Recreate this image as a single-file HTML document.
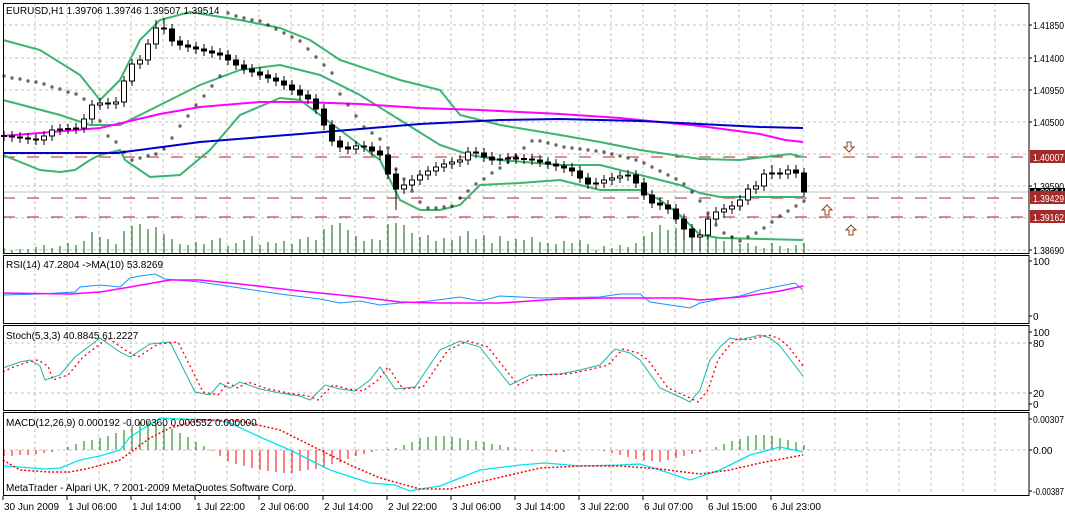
<!DOCTYPE html>
<html><head><meta charset="utf-8"><style>
html,body{margin:0;padding:0;background:#fff;}
svg{display:block;font-family:"Liberation Sans",sans-serif;font-size:10px;}
</style></head><body>
<svg xmlns="http://www.w3.org/2000/svg" width="1065" height="514" viewBox="0 0 1065 514">
<rect width="1065" height="514" fill="#fff"/>
<path d="M35 3V495M67 3V495M99 3V495M131 3V495M163 3V495M195 3V495M227 3V495M259 3V495M291 3V495M323 3V495M355 3V495M387 3V495M419 3V495M451 3V495M483 3V495M515 3V495M547 3V495M579 3V495M611 3V495M643 3V495M675 3V495M707 3V495M739 3V495M771 3V495M803 3V495M835 3V495M867 3V495M899 3V495M931 3V495M963 3V495M995 3V495" stroke="#c0c0c0" stroke-dasharray="3,3" fill="none"/>
<path d="M3 25H1029M3 58H1029M3 90H1029M3 122H1029M3 154H1029M3 186H1029M3 218H1029M3 250H1029M3 343H1029M3 393H1029M3 450H1029" stroke="#c0c0c0" stroke-dasharray="3,3" fill="none"/>
<line x1="3" y1="192" x2="1029" y2="192" stroke="#c0c0c0"/>
<path d="M3 157H1029M3 198H1029M3 217H1029" stroke="#b22222" stroke-dasharray="12,12" fill="none"/>
<path stroke="#006400" fill="none" d="M4 253v-5M12 253v-3M20 253v-4M28 253v-4M36 253v-6M44 253v-8M52 253v-5M60 253v-7M68 253v-10M76 253v-8M84 253v-12M92 253v-21M100 253v-16M108 253v-14M116 253v-9M124 253v-22M132 253v-27M140 253v-29M148 253v-24M156 253v-26M164 253v-19M172 253v-14M180 253v-9M188 253v-8M196 253v-11M204 253v-9M212 253v-13M220 253v-15M228 253v-7M236 253v-10M244 253v-13M252 253v-17M260 253v-8M268 253v-11M276 253v-10M284 253v-12M292 253v-9M300 253v-14M308 253v-16M316 253v-13M324 253v-24M332 253v-28M340 253v-30M348 253v-23M356 253v-17M364 253v-12M372 253v-14M380 253v-13M388 253v-29M396 253v-30M404 253v-28M412 253v-20M420 253v-16M428 253v-18M436 253v-12M444 253v-15M452 253v-13M460 253v-17M468 253v-22M476 253v-14M484 253v-18M492 253v-10M500 253v-17M508 253v-12M516 253v-14M524 253v-13M532 253v-16M540 253v-11M548 253v-10M556 253v-9M564 253v-12M572 253v-10M580 253v-13M588 253v-9M596 253v-3M604 253v-7M612 253v-5M620 253v-8M628 253v-6M636 253v-10M644 253v-17M652 253v-21M660 253v-28M668 253v-23M676 253v-25M684 253v-30M692 253v-27M700 253v-24M708 253v-18M716 253v-15M724 253v-12M732 253v-17M740 253v-9M748 253v-10M756 253v-7M764 253v-5M772 253v-10M780 253v-7M788 253v-5M796 253v-8M804 253v-10"/>
<g fill="none" stroke-width="2">
<polyline stroke="#3cb371" points="3,40 40,50 80,75 100,100 120,80 140,40 160,20 190,12 240,20 280,28 310,40 340,60 400,80 440,90 460,115 500,125 560,135 600,142 640,150 700,159 740,160 790,154 803,157"/>
<polyline stroke="#3cb371" points="3,100 60,115 90,125 120,125 160,105 200,85 240,70 280,65 320,75 360,95 400,120 440,145 470,155 500,160 560,165 600,165 640,175 680,185 700,193 720,197 803,197"/>
<polyline stroke="#3cb371" points="3,155 40,170 60,172 75,170 90,160 100,155 120,150 125,160 150,177 180,175 210,150 240,115 280,98 300,100 340,130 380,160 400,200 420,210 440,210 460,205 480,185 520,183 560,180 600,190 640,190 660,200 680,215 700,235 720,238 803,240"/>
<polyline stroke="#ff00ff" points="3,136 100,128 160,114 200,107 260,102 300,102 360,104 420,108 480,110 560,114 620,118 700,126 760,134 785,140 803,142"/>
<polyline stroke="#0000cd" points="3,153 117,153 200,142 300,134 360,129 420,124 500,120 560,119 640,121 700,124 760,127 803,128"/>
</g>
<g fill="none" stroke="#000" stroke-width="0.7">
<path d="M3 75h2v2h-2zM11 77h2v2h-2zM19 78h2v2h-2zM27 80h2v2h-2zM35 81h2v2h-2zM43 83h2v2h-2zM51 86h2v2h-2zM59 88h2v2h-2zM67 91h2v2h-2zM75 93h2v2h-2zM83 98h2v2h-2zM91 113h2v2h-2zM99 120h2v2h-2zM107 135h2v2h-2zM115 141h2v2h-2zM123 151h2v2h-2zM131 159h2v2h-2zM139 157h2v2h-2zM147 155h2v2h-2zM155 153h2v2h-2zM163 148h2v2h-2zM171 137h2v2h-2zM179 125h2v2h-2zM187 115h2v2h-2zM195 104h2v2h-2zM203 95h2v2h-2zM211 85h2v2h-2zM219 75h2v2h-2zM227 12h2v2h-2zM235 15h2v2h-2zM243 17h2v2h-2zM251 19h2v2h-2zM259 20h2v2h-2zM267 24h2v2h-2zM275 28h2v2h-2zM283 32h2v2h-2zM291 36h2v2h-2zM299 40h2v2h-2zM307 48h2v2h-2zM315 56h2v2h-2zM323 64h2v2h-2zM331 72h2v2h-2zM339 93h2v2h-2zM347 104h2v2h-2zM355 115h2v2h-2zM363 126h2v2h-2zM371 132h2v2h-2zM379 138h2v2h-2zM387 147h2v2h-2zM395 168h2v2h-2zM403 178h2v2h-2zM411 190h2v2h-2zM419 201h2v2h-2zM427 207h2v2h-2zM435 207h2v2h-2zM443 206h2v2h-2zM451 205h2v2h-2zM459 197h2v2h-2zM467 190h2v2h-2zM475 183h2v2h-2zM483 178h2v2h-2zM491 172h2v2h-2zM499 167h2v2h-2zM507 161h2v2h-2zM515 155h2v2h-2zM523 147h2v2h-2zM531 140h2v2h-2zM539 140h2v2h-2zM547 142h2v2h-2zM555 144h2v2h-2zM563 146h2v2h-2zM571 147h2v2h-2zM579 148h2v2h-2zM587 149h2v2h-2zM595 150h2v2h-2zM603 151h2v2h-2zM611 153h2v2h-2zM619 155h2v2h-2zM627 157h2v2h-2zM635 159h2v2h-2zM643 162h2v2h-2zM651 166h2v2h-2zM659 170h2v2h-2zM667 174h2v2h-2zM675 178h2v2h-2zM683 183h2v2h-2zM691 191h2v2h-2zM699 200h2v2h-2zM707 212h2v2h-2zM715 224h2v2h-2zM723 232h2v2h-2zM731 236h2v2h-2zM739 240h2v2h-2zM747 236h2v2h-2zM755 232h2v2h-2zM763 227h2v2h-2zM771 221h2v2h-2zM779 215h2v2h-2zM787 210h2v2h-2zM795 205h2v2h-2zM803 200h2v2h-2z"/>
</g>
<path stroke="#000" fill="none" d="M4 131V141M12 131V142M20 132V143M28 133V144M36 134V145M44 131V145M52 125V141M60 124V135M68 124V134M76 123V134M84 114V133M92 100V124M100 98V110M108 98V109M116 97V109M124 76V107M132 59V86M140 55V69M148 39V65M156 20V49M164 18V34M172 24V46M180 36V50M188 40V52M196 42V54M204 44V56M212 46V58M220 48V60M228 50V65M236 55V70M244 60V74M252 64V77M260 67V80M268 70V83M276 73V86M284 76V90M292 80V95M300 85V100M308 90V104M316 94V114M324 104V130M332 120V146M340 136V152M348 142V154M356 141V154M364 141V152M372 142V156M380 146V160M388 150V179M396 169V210M404 180V194M412 175V190M420 170V185M428 166V180M436 162V176M444 159V172M452 157V169M460 155V167M468 147V165M476 147V158M484 148V162M492 152V165M500 154V165M508 153V164M516 153V164M524 154V164M532 154V165M540 155V167M548 157V169M556 159V171M564 161V173M572 163V176M580 166V183M588 173V189M596 178V189M604 175V188M612 173V185M620 171V183M628 170V181M636 170V188M644 178V200M652 190V208M660 198V210M668 200V214M676 204V224M684 214V240M692 224V250M700 230V250M708 214V240M716 207V224M724 204V217M732 201V214M740 195V211M748 184V205M756 181V194M764 169V191M772 165V179M780 168V179M788 165V179M796 165V178M804 168V197"/>
<path fill="#000" stroke="#000" d="M1.5 135.5h5v1h-5zM9.5 136h5v1h-5zM17.5 137h5v1h-5zM25.5 138h5v1h-5zM33.5 139h5v1h-5zM65.5 128.5h5v1h-5zM105.5 103h5v1h-5zM161.5 28h5v1h-5zM169.5 29h5v12h-5zM177.5 41h5v4h-5zM185.5 45h5v2h-5zM193.5 47h5v2h-5zM201.5 49h5v2h-5zM209.5 51h5v2h-5zM217.5 53h5v2h-5zM225.5 55h5v5h-5zM233.5 60h5v5h-5zM241.5 65h5v4h-5zM249.5 69h5v3h-5zM257.5 72h5v3h-5zM265.5 75h5v3h-5zM273.5 78h5v3h-5zM281.5 81h5v4h-5zM289.5 85h5v5h-5zM297.5 90h5v5h-5zM305.5 95h5v4h-5zM313.5 99h5v10h-5zM321.5 109h5v16h-5zM329.5 125h5v16h-5zM337.5 141h5v6h-5zM345.5 147h5v2h-5zM361.5 146h5v1h-5zM369.5 147h5v4h-5zM377.5 151h5v4h-5zM385.5 155h5v19h-5zM393.5 174h5v15h-5zM473.5 152h5v1h-5zM481.5 153h5v4h-5zM489.5 157h5v3h-5zM513.5 158h5v1h-5zM521.5 158.5h5v1h-5zM529.5 159h5v1h-5zM537.5 160h5v2h-5zM545.5 162h5v2h-5zM553.5 164h5v2h-5zM561.5 166h5v2h-5zM569.5 168h5v3h-5zM577.5 171h5v7h-5zM585.5 178h5v6h-5zM633.5 175h5v8h-5zM641.5 183h5v12h-5zM649.5 195h5v8h-5zM657.5 203h5v2h-5zM665.5 205h5v4h-5zM673.5 209h5v10h-5zM681.5 219h5v10h-5zM689.5 229h5v8h-5zM777.5 173h5v1h-5zM793.5 170h5v3h-5zM801.5 173h5v19h-5z"/>
<path fill="#fff" stroke="#000" d="M41.5 136h5v4h-5zM49.5 130h5v6h-5zM57.5 129h5v1h-5zM73.5 128h5v1h-5zM81.5 119h5v9h-5zM89.5 105h5v14h-5zM97.5 103h5v2h-5zM113.5 102h5v2h-5zM121.5 81h5v21h-5zM129.5 64h5v17h-5zM137.5 60h5v4h-5zM145.5 44h5v16h-5zM153.5 28h5v16h-5zM353.5 146h5v3h-5zM401.5 185h5v4h-5zM409.5 180h5v5h-5zM417.5 175h5v5h-5zM425.5 171h5v4h-5zM433.5 167h5v4h-5zM441.5 164h5v3h-5zM449.5 162h5v2h-5zM457.5 160h5v2h-5zM465.5 152h5v8h-5zM497.5 159h5v1h-5zM505.5 158h5v1h-5zM593.5 183h5v1h-5zM601.5 180h5v3h-5zM609.5 178h5v2h-5zM617.5 176h5v2h-5zM625.5 175h5v1h-5zM697.5 235h5v2h-5zM705.5 219h5v16h-5zM713.5 212h5v7h-5zM721.5 209h5v3h-5zM729.5 206h5v3h-5zM737.5 200h5v6h-5zM745.5 189h5v11h-5zM753.5 186h5v3h-5zM761.5 174h5v12h-5zM769.5 173h5v1h-5zM785.5 170h5v4h-5z"/>
<g fill="#fff" stroke="#8b4513">
<path d="M847 142H851V147H854L849 152L844 147H847Z"/>
<path d="M825 215H829V210H832L827 205L822 210H825Z"/>
<path d="M849 235H853V230H856L851 225L846 230H849Z"/>
</g>
<polyline fill="none" stroke="#1e90ff" points="3,295 40,294 75,292 80,287 100,285 120,287 130,278 140,276 155,274 165,279 200,282 240,288 280,294 320,299 340,303 360,301 380,305 400,303 430,301 460,297 480,301 500,296 540,298 600,297 620,294 640,294 650,302 670,305 690,308 700,303 720,299 740,296 760,290 780,286 790,284 795,283 803,290"/>
<polyline fill="none" stroke="#ff00ff" stroke-width="1.5" points="3,293 70,294 100,292 130,287 170,280 200,280 240,284 300,291 360,297 400,302 440,303 500,303 560,299 600,298 680,298 700,300 740,297 780,291 803,286"/>
<polyline fill="none" stroke="#20b2aa" points="3,368 20,362 30,360 40,366 45,380 60,375 75,357 100,338 120,352 130,357 150,344 170,342 195,392 210,395 220,383 230,388 240,382 260,389 280,393 300,396 310,400 325,385 340,389 355,391 370,380 380,367 395,389 415,387 440,350 460,341 480,347 490,360 510,385 530,375 560,374 580,370 600,365 615,349 630,353 640,360 660,388 680,397 690,402 700,390 710,360 720,347 730,338 740,340 760,335 770,338 780,346 790,359 803,376"/>
<polyline fill="none" stroke="#ff0000" stroke-width="1.3" stroke-dasharray="2,3" points="3,372 11,368 28,362 38,360 48,366 53,380 68,375 83,357 108,338 128,352 138,357 158,344 178,342 203,392 218,395 228,383 238,388 248,382 268,389 288,393 308,396 318,400 333,385 348,389 363,391 378,380 388,367 403,389 423,387 448,350 468,341 488,347 498,360 518,385 538,375 568,374 588,370 608,365 623,349 638,353 648,360 668,388 688,397 698,402 708,390 718,360 728,347 738,338 748,340 768,335 778,338 788,346 798,359 803,366"/>
<path stroke="#008000" fill="none" d="M68 450v-3M76 450v-6M84 450v-9M92 450v-10M100 450v-12M108 450v-14M116 450v-17M124 450v-20M132 450v-24M140 450v-28M148 450v-29M156 450v-27M164 450v-25M172 450v-21M180 450v-17M188 450v-13M196 450v-8M204 450v-4M388 450v-1M396 450v-2M404 450v-5M412 450v-8M420 450v-12M428 450v-13M436 450v-14M444 450v-14M452 450v-13M460 450v-12M468 450v-10M476 450v-9M484 450v-8M492 450v-6M500 450v-5M508 450v-3M516 450v-1M716 450v-3M724 450v-6M732 450v-9M740 450v-11M748 450v-14M756 450v-15M764 450v-15M772 450v-14M780 450v-12M788 450v-10M796 450v-8M804 450v-5"/>
<path stroke="#ff0000" fill="none" d="M4 450v6M12 450v6M20 450v5M28 450v5M36 450v4M44 450v3M52 450v2M212 450v1M220 450v6M228 450v11M236 450v14M244 450v16M252 450v18M260 450v20M268 450v21M276 450v22M284 450v23M292 450v23M300 450v21M308 450v20M316 450v19M324 450v17M332 450v14M340 450v12M348 450v9M356 450v6M364 450v4M372 450v2M532 450v1M548 450v1M556 450v2M564 450v2M604 450v1M612 450v3M620 450v5M628 450v7M636 450v9M644 450v10M652 450v11M660 450v12M668 450v10M676 450v8M684 450v6M692 450v4M700 450v2"/>
<polyline fill="none" stroke="#00e5ee" stroke-width="1.3" points="3,466 20,467 45,469 60,468 80,460 100,456 120,450 130,437 160,418 180,419 215,420 230,423 260,437 290,450 330,470 370,483 395,485 410,491 420,489 440,486 460,478 480,470 520,465 545,463 580,466 620,465 640,464 660,470 690,480 720,470 750,455 780,447 803,452"/>
<polyline fill="none" stroke="#ff0000" stroke-width="1.5" stroke-dasharray="2,2" points="3,460 20,470 50,472 70,472 90,468 120,460 150,438 170,428 200,420 240,421 280,430 310,445 350,465 380,478 420,489 450,489 480,482 510,475 540,468 580,466 620,466 660,469 700,474 730,470 760,463 803,455"/>
<g fill="none" stroke="#000">
<rect x="3.5" y="3.5" width="1025.5" height="250"/>
<rect x="3.5" y="255.5" width="1025.5" height="68"/>
<rect x="3.5" y="325.5" width="1025.5" height="85"/>
<rect x="3.5" y="412.5" width="1025.5" height="83"/>
<path d="M1029 25h3M1029 58h3M1029 90h3M1029 122h3M1029 186h3M1029 250h3M1029 261h3M1029 316h3M1029 332h3M1029 343h3M1029 393h3M1029 404h3M1029 419h3M1029 450h3M1029 491h3"/>
<path d="M3 496v4M67 496v4M131 496v4M195 496v4M259 496v4M323 496v4M387 496v4M451 496v4M515 496v4M579 496v4M643 496v4M707 496v4M771 496v4"/>
</g>
<g fill="#000">
<text x="1033" y="29" textLength="31" lengthAdjust="spacingAndGlyphs">1.41850</text>
<text x="1033" y="62" textLength="31" lengthAdjust="spacingAndGlyphs">1.41400</text>
<text x="1033" y="94" textLength="31" lengthAdjust="spacingAndGlyphs">1.40950</text>
<text x="1033" y="126" textLength="31" lengthAdjust="spacingAndGlyphs">1.40500</text>
<text x="1033" y="190" textLength="31" lengthAdjust="spacingAndGlyphs">1.39590</text>
<text x="1033" y="254" textLength="31" lengthAdjust="spacingAndGlyphs">1.38690</text>
<text x="1033" y="265">100</text>
<text x="1033" y="320">0</text>
<text x="1033" y="336">100</text>
<text x="1033" y="347">80</text>
<text x="1033" y="397">20</text>
<text x="1033" y="408">0</text>
<text x="1033" y="423" textLength="31" lengthAdjust="spacingAndGlyphs">0.00307</text>
<text x="1033" y="454">0.00</text>
<text x="1033" y="495" textLength="31" lengthAdjust="spacingAndGlyphs">-0.00387</text>
</g>
<rect x="1030" y="188" width="35" height="9" fill="#000"/><text x="1033" y="196" fill="#fff" textLength="31" lengthAdjust="spacingAndGlyphs">1.39514</text>
<rect x="1030" y="150" width="35" height="13" fill="#a52a2a"/><text x="1033" y="161" fill="#fff" textLength="31" lengthAdjust="spacingAndGlyphs">1.40007</text>
<rect x="1030" y="191" width="35" height="13" fill="#a52a2a"/><text x="1033" y="202" fill="#fff" textLength="31" lengthAdjust="spacingAndGlyphs">1.39429</text>
<rect x="1030" y="210" width="35" height="13" fill="#a52a2a"/><text x="1033" y="221" fill="#fff" textLength="31" lengthAdjust="spacingAndGlyphs">1.39162</text>
<g fill="#000">
<text x="4" y="510">30 Jun 2009</text>
<text x="68" y="510">1 Jul 06:00</text>
<text x="132" y="510">1 Jul 14:00</text>
<text x="196" y="510">1 Jul 22:00</text>
<text x="260" y="510">2 Jul 06:00</text>
<text x="324" y="510">2 Jul 14:00</text>
<text x="388" y="510">2 Jul 22:00</text>
<text x="452" y="510">3 Jul 06:00</text>
<text x="516" y="510">3 Jul 14:00</text>
<text x="580" y="510">3 Jul 22:00</text>
<text x="644" y="510">6 Jul 07:00</text>
<text x="708" y="510">6 Jul 15:00</text>
<text x="772" y="510">6 Jul 23:00</text>
<text x="6" y="14">EURUSD,H1  1.39706 1.39746 1.39507 1.39514</text>
<text x="6" y="268">RSI(14) 47.2804  -&gt;MA(10) 53.8269</text>
<text x="6" y="339">Stoch(5,3,3) 40.8845 61.2227</text>
<text x="6" y="426">MACD(12,26,9) 0.000192 -0.000360 0.000552 0.000000</text>
<text x="6" y="491">MetaTrader - Alpari UK, ? 2001-2009 MetaQuotes Software Corp.</text>
</g>
</svg>
</body></html>
